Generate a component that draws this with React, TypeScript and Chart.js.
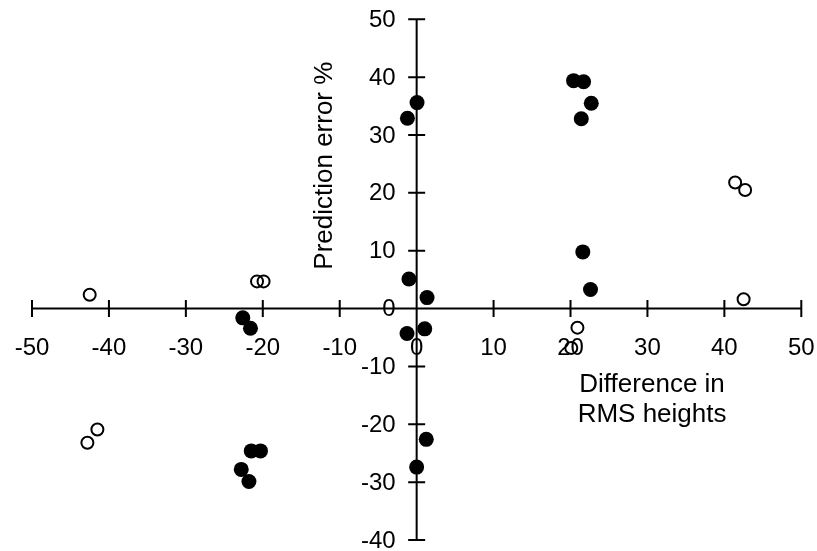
import React, { useEffect, useRef } from "react";
import { Chart, registerables } from "chart.js";

Chart.register(...registerables);

// Filled circles
const filledX = [-1.2, 0.05, 20.4, 21.7, 22.7, 21.4, 21.6, 22.6, -1.0, 1.35, -1.25, 1.05, -22.6, -21.6, -22.8, -21.8, -21.5, -20.3, 0.0, 1.25];
const filledY = [32.9, 35.6, 39.4, 39.2, 35.5, 32.8, 9.8, 3.3, 5.1, 1.9, -4.3, -3.5, -1.6, -3.4, -27.8, -29.9, -24.6, -24.6, -27.4, -22.6];

// Open circles
const openX = [-42.5, -20.75, -19.9, -42.8, -41.5, 41.4, 42.7, 42.5, 20.9, 20.1];
const openY = [2.4, 4.7, 4.7, -23.2, -20.9, 21.8, 20.5, 1.6, -3.3, -6.8];

const xMin = -50;
const xMax = 50;
const yMin = -40;
const yMax = 50;
const tickStep = 10;

const yTitle = "Prediction error %";
const xTitleLines = ["Difference in", "RMS heights"];

const FONT = '"Liberation Sans", Arial, sans-serif';

const crossAxesPlugin = {
  id: "crossAxes",
  beforeDatasetsDraw(chart: any) {
    const { ctx, chartArea } = chart;
    const xs = chart.scales.x;
    const ys = chart.scales.y;
    const x0 = xs.getPixelForValue(0);
    const y0 = ys.getPixelForValue(0);
    ctx.save();
    ctx.strokeStyle = "#000";
    ctx.lineWidth = 2;
    ctx.beginPath();
    ctx.moveTo(chartArea.left, y0);
    ctx.lineTo(chartArea.right, y0);
    ctx.moveTo(x0, chartArea.top);
    ctx.lineTo(x0, chartArea.bottom);
    xs.ticks.forEach((t: any) => {
      const p = xs.getPixelForValue(t.value);
      ctx.moveTo(p, y0 - 8.5);
      ctx.lineTo(p, y0 + 8.5);
    });
    ys.ticks.forEach((t: any) => {
      const p = ys.getPixelForValue(t.value);
      ctx.moveTo(x0 - 8.5, p);
      ctx.lineTo(x0 + 8.5, p);
    });
    ctx.stroke();

    ctx.fillStyle = "#000";
    ctx.font = "24px " + FONT;
    ctx.textAlign = "right";
    ctx.textBaseline = "middle";
    ys.ticks.forEach((t: any) => {
      ctx.fillText(String(t.value), x0 - 21, ys.getPixelForValue(t.value) + 1);
    });
    ctx.restore();
  },
  afterDraw(chart: any) {
    const { ctx } = chart;
    const xs = chart.scales.x;
    const ys = chart.scales.y;
    const x0 = xs.getPixelForValue(0);
    ctx.save();
    ctx.fillStyle = "#000";
    ctx.font = "26px " + FONT;
    ctx.textAlign = "center";
    ctx.textBaseline = "alphabetic";
    // y title
    ctx.translate(x0 - 85, ys.getPixelForValue(24.7));
    ctx.rotate(-Math.PI / 2);
    ctx.fillText(yTitle, 0, 0);
    ctx.restore();

    ctx.save();
    ctx.fillStyle = "#000";
    ctx.font = "26px " + FONT;
    ctx.textAlign = "center";
    ctx.textBaseline = "alphabetic";
    const cx = xs.getPixelForValue(30.6);
    ctx.fillText(xTitleLines[0], cx, 392);
    ctx.fillText(xTitleLines[1], cx, 422);
    ctx.restore();
  },
};

export default function App() {
  const canvasRef = useRef<HTMLCanvasElement | null>(null);

  useEffect(() => {
    const canvas = canvasRef.current;
    if (!canvas) return;
    const chart = new Chart(canvas, {
      type: "scatter",
      data: {
        datasets: [
          {
            label: "filled",
            data: filledX.map((x, i) => ({ x, y: filledY[i] })),
            backgroundColor: "#000",
            borderColor: "#000",
            borderWidth: 0,
            pointRadius: 7.5,
            pointHoverRadius: 7.5,
          },
          {
            label: "open",
            data: openX.map((x, i) => ({ x, y: openY[i] })),
            backgroundColor: "rgba(0,0,0,0)",
            borderColor: "#000",
            borderWidth: 2,
            pointRadius: 6,
            pointHoverRadius: 6,
          },
        ],
      },
      options: {
        responsive: false,
        maintainAspectRatio: false,
        animation: false,
        devicePixelRatio: 1,
        events: [],
        layout: { padding: { left: 32, right: 15.7, top: 19.3, bottom: 11 } },
        plugins: {
          legend: { display: false },
          tooltip: { enabled: false },
          title: { display: false },
        },
        scales: {
          x: {
            type: "linear",
            min: xMin,
            max: xMax,
            position: { y: 0 },
            grid: { display: false, drawTicks: true, tickLength: 25 },
            border: { display: false },
            ticks: {
              stepSize: tickStep,
              autoSkip: false,
              maxRotation: 0,
              padding: 0,
              color: "#000",
              font: { family: FONT, size: 24 },
            },
          },
          y: {
            type: "linear",
            min: yMin,
            max: yMax,
            position: { x: 0 },
            grid: { display: false },
            border: { display: false },
            ticks: { stepSize: tickStep, display: false },
          },
        },
      },
      plugins: [crossAxesPlugin],
    });
    return () => chart.destroy();
  }, []);

  return (
    <div style={{ position: "fixed", left: 0, top: 0, width: 817, height: 551, background: "#fff" }}>
      <canvas ref={canvasRef} width={817} height={551} style={{ display: "block", width: 817, height: 551 }} />
    </div>
  );
}
